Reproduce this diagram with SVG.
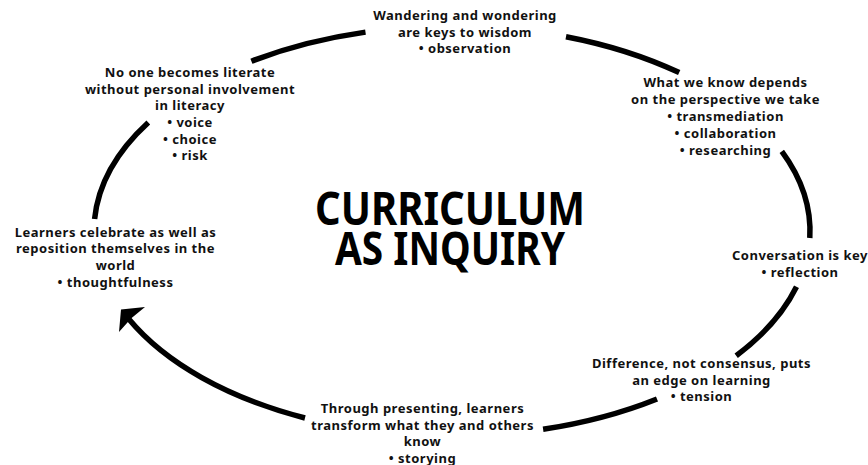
<svg xmlns="http://www.w3.org/2000/svg" width="868" height="465" viewBox="0 0 868 465">
<style>
.t{font-family:"Noto Sans","DejaVu Sans",sans-serif;font-weight:bold;font-size:13px;letter-spacing:0.5px;fill:#111;text-anchor:middle}
.title{font-family:"Noto Sans","DejaVu Sans",sans-serif;font-weight:bold;font-size:46px;fill:#000;text-anchor:middle}
.arc{fill:none;stroke:#000;stroke-width:5.5;stroke-linecap:butt}
</style>
<rect width="868" height="465" fill="#fff"/>
<g id="connectors">
<path class="arc" d="M251.4,61.2 A358,205 0 0 1 365.5,32.1"/>
<path class="arc" d="M566,36.7 A358,205 0 0 1 679.2,72.6"/>
<path class="arc" d="M781.8,151.3 A358,205 0 0 1 809.8,238"/>
<path class="arc" d="M796.5,286.8 A358,205 0 0 1 736.2,355.7"/>
<path class="arc" d="M657,399 A358,205 0 0 1 543.1,429.3"/>
<path class="arc" d="M305,418 A358,205 0 0 1 129,319.3"/>
<polygon points="121,309.5 145,307 131,318.5 119,332" fill="#000"/>
<path class="arc" d="M94.6,219 A358,205 0 0 1 148.3,122.5"/>
</g>
<g id="title">
<text class="title" x="450" y="225" textLength="270" lengthAdjust="spacingAndGlyphs">CURRICULUM</text>
<text class="title" x="450" y="265" textLength="230" lengthAdjust="spacingAndGlyphs">AS INQUIRY</text>
</g>
<g id="node-wandering">
<text class="t" x="465" y="20">Wandering and wondering</text>
<text class="t" x="465" y="36.5">are keys to wisdom</text>
<text class="t" x="465" y="53">• observation</text>
</g>
<g id="node-perspective">
<text class="t" x="725.5" y="87">What we know depends</text>
<text class="t" x="725.5" y="104">on the perspective we take</text>
<text class="t" x="725.5" y="121">• transmediation</text>
<text class="t" x="725.5" y="138">• collaboration</text>
<text class="t" x="725.5" y="154.5">• researching</text>
</g>
<g id="node-conversation">
<text class="t" x="800" y="259.5">Conversation is key</text>
<text class="t" x="800" y="276.5">• reflection</text>
</g>
<g id="node-difference">
<text class="t" x="701.5" y="368">Difference, not consensus, puts</text>
<text class="t" x="701.5" y="384.5">an edge on learning</text>
<text class="t" x="701.5" y="401">• tension</text>
</g>
<g id="node-presenting">
<text class="t" x="422.5" y="413">Through presenting, learners</text>
<text class="t" x="422.5" y="429.5">transform what they and others</text>
<text class="t" x="422.5" y="446">know</text>
<text class="t" x="422.5" y="462.5">• storying</text>
</g>
<g id="node-celebrate">
<text class="t" x="115.5" y="236.5">Learners celebrate as well as</text>
<text class="t" x="115.5" y="253">reposition themselves in the</text>
<text class="t" x="115.5" y="270">world</text>
<text class="t" x="115.5" y="286.5">• thoughtfulness</text>
</g>
<g id="node-literate">
<text class="t" x="190" y="77">No one becomes literate</text>
<text class="t" x="190" y="93.5">without personal involvement</text>
<text class="t" x="190" y="110">in literacy</text>
<text class="t" x="190" y="127">• voice</text>
<text class="t" x="190" y="143.5">• choice</text>
<text class="t" x="190" y="160">• risk</text>
</g>
</svg>
